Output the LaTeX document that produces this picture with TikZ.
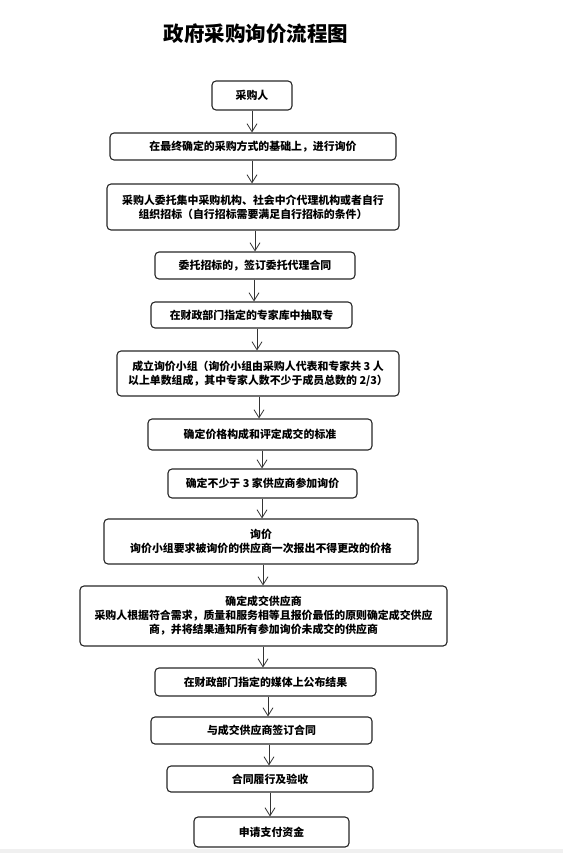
\documentclass[tikz,border=0pt]{standalone}
\usepackage{fontspec}
\newfontfamily\cjk{Noto Sans CJK SC}
\usetikzlibrary{arrows.meta}
\tikzset{
  box/.style={draw=black!85, line width=1.1pt, rounded corners=4pt, inner sep=0pt,
    align=center, font=\cjk\bfseries\fontsize{10.9}{14}\selectfont, text=black},
  arr/.style={-{Straight Barb[length=8pt,width=10pt,line width=0.8pt]}, line width=0.9pt, draw=black!80},
  ttl/.style={font=\cjk\bfseries\fontsize{20.5}{24}\selectfont, inner sep=0pt}
}
\newcommand{\flowbox}[6]{% name, left, top, right, bottom, text
  \node[box, minimum width={#4-#2}, minimum height={#5-#3}] (#1) at ({(#2+#4)/2},{(#3+#5)/2}) {#6};}
\begin{document}
\begin{tikzpicture}[x=1pt,y=-1pt]
\useasboundingbox (0,0) rectangle (563,853);
\fill[black!6] (0,849) rectangle (563,853);
\node[ttl] (title) at (256,34) {政府采购询价流程图};
\flowbox{b1}{212}{81}{292}{110}{采购人}
\flowbox{b2}{110}{133}{396}{160}{在最终确定的采购方式的基础上，进行询价}
\flowbox{b3}{107}{184}{399}{230}{采购人委托集中采购机构、社会中介代理机构或者自行\\组织招标（自行招标需要满足自行招标的条件）}
\flowbox{b4}{155}{252}{355}{279}{委托招标的，签订委托代理合同}
\flowbox{b5}{151}{302}{352}{328}{在财政部门指定的专家库中抽取专}
\flowbox{b6}{117}{351}{399}{396}{成立询价小组（询价小组由采购人代表和专家共 3 人\\以上单数组成，其中专家人数不少于成员总数的 2/3）}
\flowbox{b7}{148}{419}{372}{450}{确定价格构成和评定成交的标准}
\flowbox{b8}{168}{469}{357}{498}{确定不少于 3 家供应商参加询价}
\flowbox{b9}{104}{519}{418}{564}{询价\\询价小组要求被询价的供应商一次报出不得更改的价格}
\flowbox{b10}{80}{586}{447}{646}{确定成交供应商\\采购人根据符合需求，质量和服务相等且报价最低的原则确定成交供应\\商，并将结果通知所有参加询价未成交的供应商}
\flowbox{b11}{155}{668}{376}{696}{在财政部门指定的媒体上公布结果}
\flowbox{b12}{151}{717}{372}{744}{与成交供应商签订合同}
\flowbox{b13}{167}{766}{373}{792}{合同履行及验收}
\flowbox{b14}{194}{817}{349}{847}{申请支付资金}
\draw[arr] (b1.south -| 252,0) -- (b2.north -| 252,0);
\draw[arr] (b2.south -| 252,0) -- (b3.north -| 252,0);
\draw[arr] (b3.south -| 255,0) -- (b4.north -| 255,0);
\draw[arr] (b4.south -| 254,0) -- (b5.north -| 254,0);
\draw[arr] (b5.south -| 257,0) -- (b6.north -| 257,0);
\draw[arr] (b6.south -| 259,0) -- (b7.north -| 259,0);
\draw[arr] (b7.south -| 262,0) -- (b8.north -| 262,0);
\draw[arr] (b8.south -| 262,0) -- (b9.north -| 262,0);
\draw[arr] (b9.south -| 263,0) -- (b10.north -| 263,0);
\draw[arr] (b10.south -| 263,0) -- (b11.north -| 263,0);
\draw[arr] (b11.south -| 268,0) -- (b12.north -| 268,0);
\draw[arr] (b12.south -| 269,0) -- (b13.north -| 269,0);
\draw[arr] (b13.south -| 270,0) -- (b14.north -| 270,0);
\end{tikzpicture}
\end{document}
